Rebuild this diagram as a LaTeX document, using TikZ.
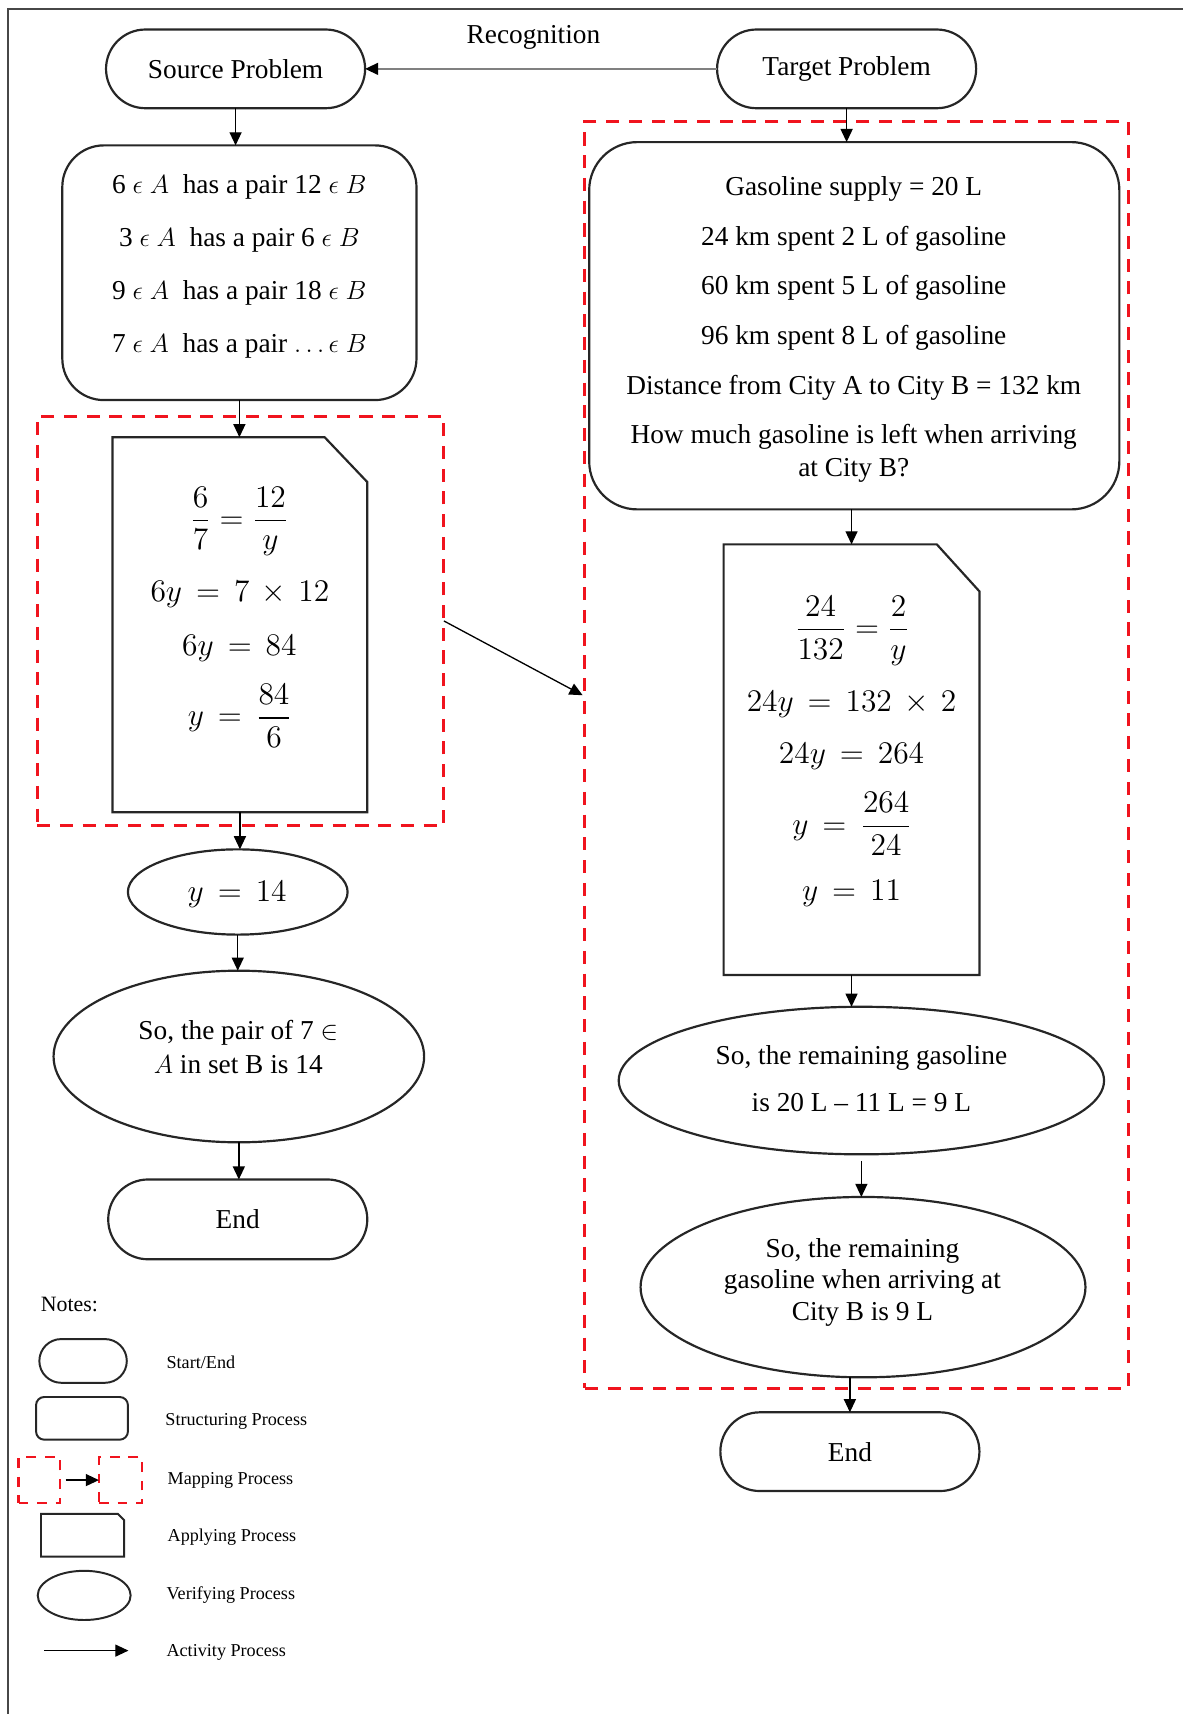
\documentclass[tikz,border=0pt]{standalone}
\usepackage{amsmath}
\usepackage{fontspec}
\setmainfont{Liberation Serif}
\usetikzlibrary{shapes.geometric,shapes.misc,arrows.meta}
\definecolor{ink}{HTML}{262626}
\definecolor{mapred}{HTML}{F0141E}
\begin{document}
\begin{tikzpicture}[x=0.5pt,y=-0.5pt,
  sz/.style 2 args={minimum width=#1*0.5pt, minimum height=#2*0.5pt, inner sep=0pt, outer sep=0pt},
  mainfont/.style={font=\fontsize{12.5}{15}\selectfont},
  txt/.style={mainfont, inner sep=0pt, text=black},
  eq/.style={font=\fontsize{13.5}{16}\selectfont, inner sep=0pt},
  stadium/.style={rounded rectangle, draw=ink, line width=1pt, mainfont},
  structbox/.style={rectangle, draw=ink, line width=1pt, rounded corners=#1},
  structbox/.default=20pt,
  verify/.style={ellipse, draw=ink, line width=1pt},
  shapeline/.style={draw=ink, line width=1pt, line join=miter},
  mapbox/.style={draw=mapred, line width=1.4pt, dash pattern=on 6pt off 4.4pt},
  smallmap/.style={draw=mapred, line width=1.1pt, dash pattern=on 4.5pt off 4pt},
  flow/.style={draw=black, line width=0.6pt, -{Triangle[length=6pt,width=5.5pt]}},
  recog/.style={draw=gray, line width=0.7pt, -{Triangle[length=6pt,width=5.5pt,black]}},
  legtxt/.style={font=\fontsize{8.3}{10}\selectfont, inner sep=0pt, anchor=west},
]
\useasboundingbox (0,0) rectangle (1082,1568);

% frame
\coordinate (fTL) at (7,8);
\coordinate (fTR) at (1082,8);
\coordinate (fBL) at (7,1568);
\draw[ink!85, line width=0.8pt] (fTR) -- (fTL) -- (fBL);

% mapping boxes
\node[mapbox, sz={372}{374}] (lmap) at (220,568) {};
\node[mapbox, sz={497}{1159}] (rmap) at (783.5,690.5) {};

% top row
\node[stadium, sz={237}{72}] (src) at (215.5,63) {Source Problem};
\node[stadium, sz={237}{72}] (tgt) at (774.5,63) {Target Problem};
\node[txt] (recl) at (488,34) {Recognition};

% left column
\node[structbox=19pt, sz={324}{233}] (ls) at (219,249.5) {};
\node[txt, align=center, font=\fontsize{12.5}{24.3}\selectfont] (lst) at (219,244)
  {6 $\epsilon$ $A$\enspace has a pair 12 $\epsilon$ $B$\\
   3 $\epsilon$ $A$\enspace has a pair 6 $\epsilon$ $B$\\
   9 $\epsilon$ $A$\enspace has a pair 18 $\epsilon$ $B$\\
   7 $\epsilon$ $A$\enspace has a pair $\ldots\epsilon$ $B$};

\node[sz={233}{343}] (la) at (219.5,571.5) {};
\draw[shapeline] (la.south west) -- (la.north west) -- ([xshift=-19.5pt]la.north east)
  -- ([yshift=-20.5pt]la.north east) -- (la.south east) -- cycle;
\node[eq] (la1) at (219,477) {$\dfrac{6}{7} = \dfrac{12}{y}$};
\node[eq] (la2) at (219.5,544) {$6y \,=\, 7 \,\times\, 12$};
\node[eq] (la3) at (219,593) {$6y \,=\, 84$};
\node[eq] (la4) at (219.5,655) {$y \,=\, \dfrac{84}{6}$};

\node[verify, sz={201}{78}] (l14) at (217.5,816) {};
\node[eq] (l14t) at (217,818) {$y \,=\, 14$};

\node[verify, sz={339}{157}] (lver) at (218.5,966.5) {};
\node[txt, align=center, font=\fontsize{12.5}{15.5}\selectfont] (lvert) at (218,957.5)
  {So, the pair of 7 $\in$\\ $A$ in set B is 14};

\node[stadium, sz={237}{73}] (lend) at (217.5,1115.5) {End};

% right column
\node[structbox=22pt, sz={485}{336}] (rs) at (781.5,298) {};
\node[txt, align=center] (rst) at (781,301.5)
  {Gasoline supply = 20 L\\[7.7pt]
   24 km spent 2 L of gasoline\\[7.7pt]
   60 km spent 5 L of gasoline\\[7.7pt]
   96 km spent 8 L of gasoline\\[7.7pt]
   Distance from City A to City B = 132 km\\[7.7pt]
   How much gasoline is left when arriving\\
   at City B?};

\node[sz={234}{394}] (ra) at (779,695) {};
\draw[shapeline] (ra.south west) -- (ra.north west) -- ([xshift=-19.5pt]ra.north east)
  -- ([yshift=-21.5pt]ra.north east) -- (ra.south east) -- cycle;
\node[eq] (ra1) at (779.5,577) {$\dfrac{24}{132} = \dfrac{2}{y}$};
\node[eq] (ra2) at (779,644) {$24y \,=\, 132 \,\times\, 2$};
\node[eq] (ra3) at (779,692) {$24y \,=\, 264$};
\node[eq] (ra4) at (779.5,754) {$y \,=\, \dfrac{264}{24}$};
\node[eq] (ra5) at (779,817) {$y \,=\, 11$};

\node[verify, sz={444}{135}] (rv1) at (788,988.5) {};
\node[txt, align=center, font=\fontsize{12.5}{21.5}\selectfont] (rv1t) at (788,986.5)
  {So, the remaining gasoline\\ is 20 L -- 11 L = 9 L};

\node[verify, sz={407}{165}] (rv2) at (789.5,1177.5) {};
\node[txt, align=center, font=\fontsize{12.5}{14.5}\selectfont] (rv2t) at (789,1173)
  {So, the remaining\\ gasoline when arriving at\\ City B is 9 L};

\node[stadium, sz={237}{72}] (rend) at (777.5,1328) {End};

% connectors
\draw[recog] (tgt.west) -- (src.east);
\draw[flow] (src.south) -- (src.south |- ls.north);
\draw[flow] (ls.south) -- (ls.south |- la.north);
\draw[flow] (la.south) -- (la.south |- l14.north);
\draw[flow] (l14.south) -- (l14.south |- lver.north);
\draw[flow] (lver.south) -- (lver.south |- lend.north);
\draw[flow] (tgt.south) -- (tgt.south |- rs.north);
\draw[flow] (ra.north |- rs.south) -- (ra.north);
\draw[flow] (ra.south) -- (ra.south |- rv1.north);
\draw[flow] ([yshift=-3pt]rv1.south) -- (rv1.south |- rv2.north);
\draw[flow] (rend.north |- rv2.south) -- (rend.north);
\coordinate (mapEnd) at (533,636);
\draw[flow] (lmap.east) -- (mapEnd);

% legend
\node[inner sep=0pt, font=\fontsize{10}{12}\selectfont, anchor=west] (notes) at (37,1193.5) {Notes:};
\node[rounded rectangle, draw=ink, line width=0.9pt, sz={80}{40}] (lg1) at (76,1245) {};
\node[structbox=3.7pt, line width=0.9pt, sz={84}{39}] (lg2) at (75,1297.5) {};
\node[smallmap, sz={38}{42}] (lg3a) at (36,1354) {};
\node[smallmap, sz={39.5}{42}] (lg3b) at (110.25,1354) {};
\draw[flow] ([xshift=2.5pt]lg3a.east) -- (lg3b.west);
\node[sz={76}{39}] (lg4) at (75.5,1404.5) {};
\draw[shapeline, line width=0.9pt] (lg4.south west) -- (lg4.north west) -- ([xshift=-2.8pt]lg4.north east)
  -- ([yshift=-2.8pt]lg4.north east) -- (lg4.south east) -- cycle;
\node[verify, line width=0.9pt, sz={85}{45}] (lg5) at (77,1459.5) {};
\coordinate (lg6a) at (40.5,1510);
\coordinate (lg6b) at (117.5,1510);
\draw[flow] (lg6a) -- (lg6b);
\node[legtxt] (lt1) at (152,1246) {Start/End};
\node[legtxt] (lt2) at (151,1300) {Structuring Process};
\node[legtxt] (lt3) at (153,1354) {Mapping Process};
\node[legtxt] (lt4) at (153,1406.5) {Applying Process};
\node[legtxt] (lt5) at (152,1459) {Verifying Process};
\node[legtxt] (lt6) at (152,1511.5) {Activity Process};
\end{tikzpicture}
\end{document}
